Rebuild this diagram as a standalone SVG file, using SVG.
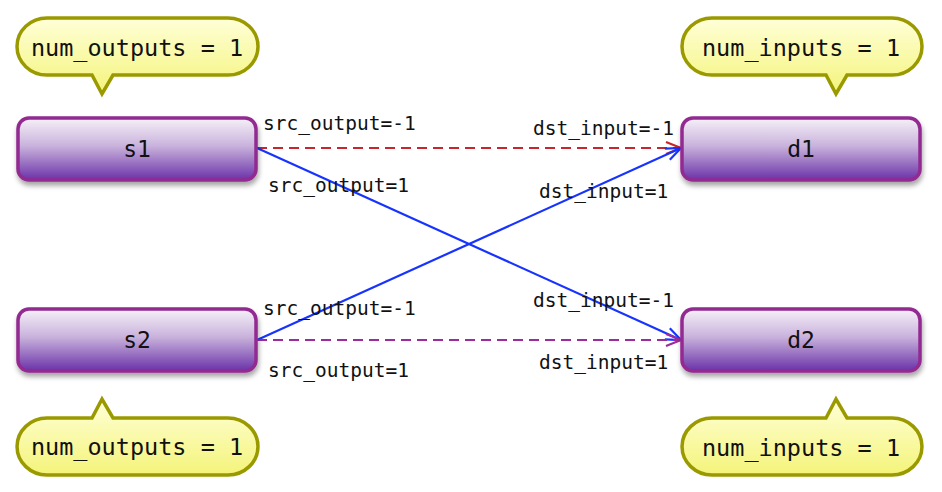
<svg xmlns="http://www.w3.org/2000/svg" width="942" height="492" viewBox="0 0 942 492">
<style>
.box{fill:url(#gBox);stroke:#922a92;stroke-width:3.5;filter:url(#sh)}
.call{fill:url(#gCall);stroke:#9a9a00;stroke-width:3.5}
.bt{font-family:"DejaVu Sans Mono","Liberation Mono",monospace;font-size:23px;fill:#111;text-anchor:middle}
.ct{font-family:"DejaVu Sans Mono","Liberation Mono",monospace;font-size:23.5px;fill:#111;text-anchor:middle}
.lb{font-family:"DejaVu Sans Mono","Liberation Mono",monospace;font-size:19.5px;fill:#111}
.e{fill:none;stroke-width:2.2}
</style>
<defs>
<linearGradient id="gBox" x1="0" y1="0" x2="0" y2="1">
<stop offset="0" stop-color="#f6f1f8"/>
<stop offset="0.45" stop-color="#c9b2dc"/>
<stop offset="1" stop-color="#6a32a8"/>
</linearGradient>
<linearGradient id="gCall" x1="0" y1="0" x2="0" y2="1">
<stop offset="0" stop-color="#ffffd8"/>
<stop offset="1" stop-color="#f4f47a"/>
</linearGradient>
<filter id="sh" x="-10%" y="-20%" width="120%" height="150%">
<feDropShadow dx="1" dy="4" stdDeviation="2.5" flood-color="#000" flood-opacity="0.35"/>
</filter>
<marker id="aR" markerUnits="userSpaceOnUse" markerWidth="20" markerHeight="16" refX="0" refY="0" viewBox="-17 -8 20 16" orient="auto"><path d="M-15,-6 L0,0 L-15,6" fill="none" stroke="#c8262e" stroke-width="2.2"/></marker>
<marker id="aB" markerUnits="userSpaceOnUse" markerWidth="20" markerHeight="16" refX="0" refY="0" viewBox="-17 -8 20 16" orient="auto"><path d="M-15,-6 L0,0 L-15,6" fill="none" stroke="#1733ff" stroke-width="2.2"/></marker>
<marker id="aP" markerUnits="userSpaceOnUse" markerWidth="20" markerHeight="16" refX="0" refY="0" viewBox="-17 -8 20 16" orient="auto"><path d="M-15,-6 L0,0 L-15,6" fill="none" stroke="#9c2c9c" stroke-width="2.2"/></marker>
</defs>
<rect width="942" height="492" fill="#fff"/>

<g id="connectors">
<line class="e" x1="257" y1="148" x2="681" y2="148" stroke="#c8262e" stroke-dasharray="10,6" marker-end="url(#aR)"/>
<line class="e" x1="257" y1="148" x2="681" y2="340" stroke="#1733ff" marker-end="url(#aB)"/>
<line class="e" x1="257" y1="340" x2="681" y2="148" stroke="#1733ff" marker-end="url(#aB)"/>
<line class="e" x1="257" y1="340" x2="681" y2="340" stroke="#9c2c9c" stroke-dasharray="10,6" marker-end="url(#aP)"/>
<text class="lb" x="263" y="130">src_output=-1</text>
<text class="lb" x="268" y="192">src_output=1</text>
<text class="lb" x="533" y="135">dst_input=-1</text>
<text class="lb" x="539" y="198">dst_input=1</text>
<text class="lb" x="263" y="315">src_output=-1</text>
<text class="lb" x="268" y="377">src_output=1</text>
<text class="lb" x="533" y="307">dst_input=-1</text>
<text class="lb" x="539" y="369">dst_input=1</text>
</g>

<g id="s1"><rect class="box" x="18" y="118" width="238" height="62" rx="11"/><text class="bt" x="137" y="157">s1</text></g>
<g id="s2"><rect class="box" x="18" y="309" width="238" height="62" rx="11"/><text class="bt" x="137" y="348">s2</text></g>
<g id="d1"><rect class="box" x="682" y="118" width="238" height="62" rx="11"/><text class="bt" x="801" y="157">d1</text></g>
<g id="d2"><rect class="box" x="682" y="309" width="238" height="62" rx="11"/><text class="bt" x="801" y="348">d2</text></g>

<g id="c_s1"><path class="call" d="M47,18 H228 A30,28.5 0 0 1 228,75 H113 L102,94 L92,75 H47 A30,28.5 0 0 1 47,18 Z"/><text class="ct" x="137" y="56">num_outputs = 1</text></g>
<g id="c_d1"><path class="call" d="M712,18 H892 A30,28.5 0 0 1 892,75 H847 L836,94 L826,75 H712 A30,28.5 0 0 1 712,18 Z"/><text class="ct" x="801" y="56">num_inputs = 1</text></g>
<g id="c_s2"><path class="call" d="M47,418 H92 L102,399 L113,418 H228 A30,28.5 0 0 1 228,475 H47 A30,28.5 0 0 1 47,418 Z"/><text class="ct" x="137" y="455">num_outputs = 1</text></g>
<g id="c_d2"><path class="call" d="M712,418 H826 L836,399 L847,418 H892 A30,28.5 0 0 1 892,475 H712 A30,28.5 0 0 1 712,418 Z"/><text class="ct" x="801" y="456">num_inputs = 1</text></g>
</svg>
